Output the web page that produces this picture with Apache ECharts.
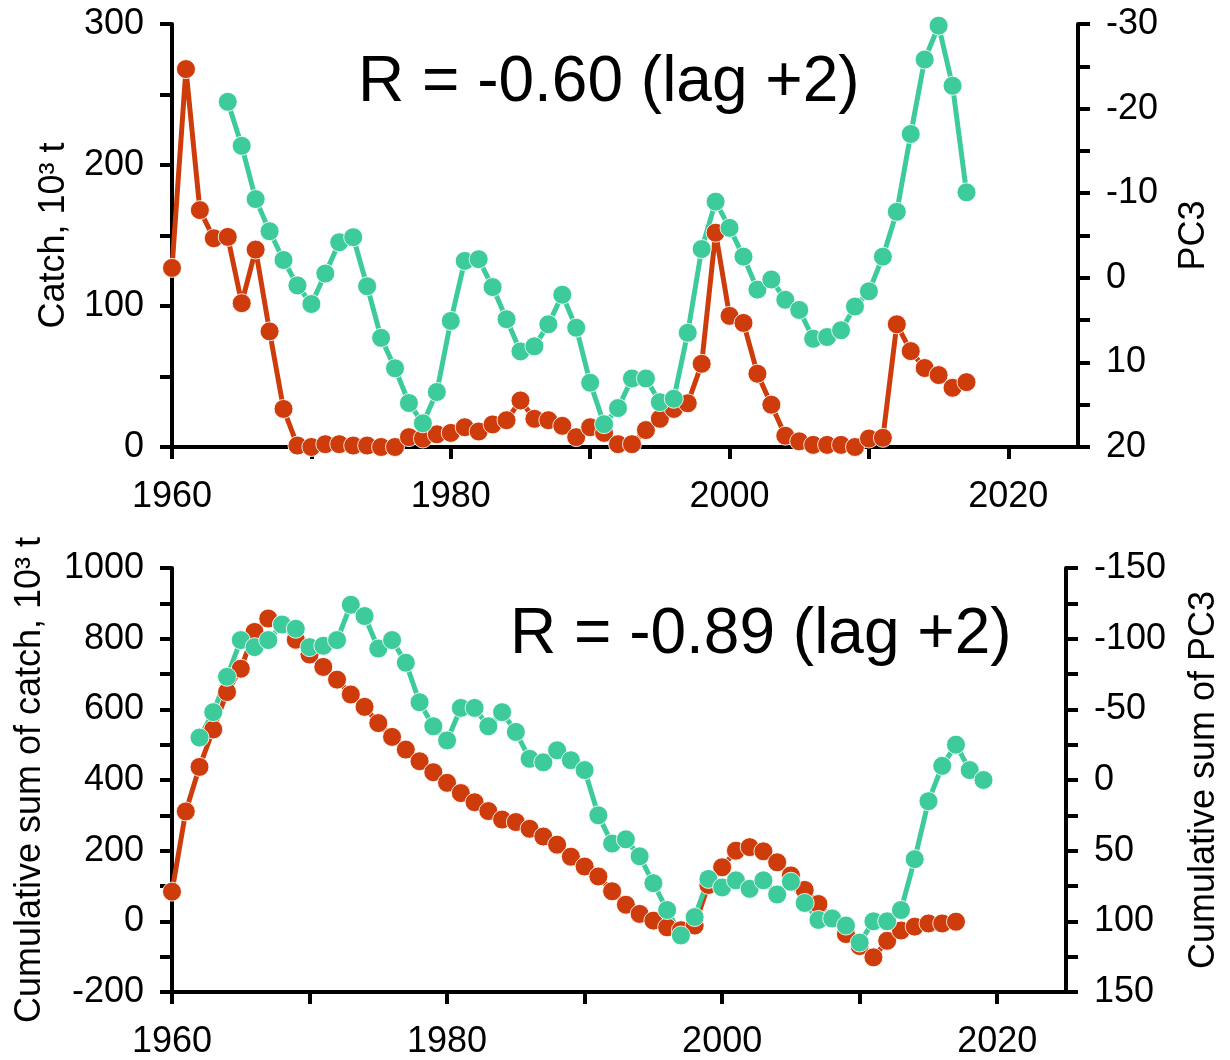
<!DOCTYPE html>
<html>
<head>
<meta charset="utf-8">
<script src="https://cdn.jsdelivr.net/npm/echarts@6/dist/echarts.min.js"></script>
<style>
html,body{margin:0;padding:0;background:#fff;}
#chart{width:1230px;height:1060px;}
</style>
</head>
<body>
<div id="chart"></div>
<script>
// ---- data ----
var catchYears = [1960,1961,1962,1963,1964,1965,1966,1967,1968,1969,1970,1971,1972,1973,1974,1975,1976,1977,1978,1979,1980,1981,1982,1983,1984,1985,1986,1987,1988,1989,1990,1991,1992,1993,1994,1995,1996,1997,1998,1999,2000,2001,2002,2003,2004,2005,2006,2007,2008,2009,2010,2011,2012,2013,2014,2015,2016,2017];
var catchValues = [127,268,168,148,149,102,140,82,27,1,0,2,2,1,1,0,0,7,6,9,10,14,11,16,19,33,20,19,15,7,14,10,2,2,12,20,27,31,59,152,93,88,52,30,8,4,1.5,1.5,1.5,0,6,6.5,87,68,56,51,42,46];
var pc3Years = [1964,1965,1966,1967,1968,1969,1970,1971,1972,1973,1974,1975,1976,1977,1978,1979,1980,1981,1982,1983,1984,1985,1986,1987,1988,1989,1990,1991,1992,1993,1994,1995,1996,1997,1998,1999,2000,2001,2002,2003,2004,2005,2006,2007,2008,2009,2010,2011,2012,2013,2014,2015,2016,2017];
var pc3Values = [-20.8,-15.6,-9.3,-5.5,-2.1,0.9,3.1,-0.5,-4.2,-4.8,1.0,7.1,10.7,14.8,17.2,13.5,5.1,-2.0,-2.2,1.1,4.9,8.7,8.1,5.5,2.0,5.9,12.4,17.3,15.4,11.9,11.9,14.7,14.3,6.5,-3.4,-9.0,-5.9,-2.5,1.4,0.2,2.6,3.8,7.2,7.0,6.2,3.4,1.6,-2.5,-7.8,-17.0,-25.8,-29.8,-22.7,-10.1];
var cumCatchYears = catchYears;
var cumCatchValues = [84,311,437,543,649,715,819,857,840,797,755,720,684,642,607,561,522,486,453,422,392,363,337,312,288,281,262,240,217,183,155,127,85,47,21,2,-17,-25,-12,103,153,200,210,198,167,130,89,49,9,-36,-70,-102,-55,-26,-15,-6,-6,-1];
var cumPc3Years = [1962,1963,1964,1965,1966,1967,1968,1969,1970,1971,1972,1973,1974,1975,1976,1977,1978,1979,1980,1981,1982,1983,1984,1985,1986,1987,1988,1989,1990,1991,1992,1993,1994,1995,1996,1997,1998,1999,2000,2001,2002,2003,2004,2005,2006,2007,2008,2009,2010,2011,2012,2013,2014,2015,2016,2017,2018,2019];
var cumPc3Values = [-30,-48,-73,-99,-94,-99,-110,-107,-94,-95,-99,-124,-116,-93,-99,-83,-55,-38,-28,-51,-51,-38,-48,-34,-15,-12.5,-21,-14,-7,25,45,42,54,73,92,110,97,70,76,71,77,71,81,72,87,99,98,103,115,100,100,92,56,15,-10,-25,-7,0];

var xTicks = [1960,1970,1980,1990,2000,2010,2020];
var xLabels = [1960,1980,2000,2020];
var catchTicks = [0,50,100,150,200,250,300];
var catchLabels = [0,100,200,300];
var pc3Ticks = [-30,-25,-20,-15,-10,-5,0,5,10,15,20];
var pc3Labels = [-30,-20,-10,0,10,20];
var cumCatchTicks = [-200,-100,0,100,200,300,400,500,600,700,800,900,1000];
var cumCatchLabels = [-200,0,200,400,600,800,1000];
var cumPc3Ticks = [-150,-125,-100,-75,-50,-25,0,25,50,75,100,125,150];
var cumPc3Labels = [-150,-100,-50,0,50,100,150];

var annotTop = 'R = -0.60 (lag +2)';
var annotBottom = 'R = -0.89 (lag +2)';

// ---- styles ----
var RED = '#cf3c0c';
var GREEN = '#3dcb9b';
var FONT = '"Liberation Sans", Arial, sans-serif';
var LBL = 36;
var NAME = 36;

function pairs(xs, ys){ return xs.map(function(x,i){ return [x, ys[i]]; }); }
function fmt(v){ return String(v); }

function xAxisCfg(gi){
  return {
    type:'value', gridIndex:gi, min:1960, max:2025, interval:10,
    axisLine:{show:true, onZero:false, lineStyle:{color:'#000', width:4}},
    axisTick:{show:true, length:12, lineStyle:{color:'#000', width:4}, customValues:xTicks},
    axisLabel:{show:true, customValues:xLabels, formatter:fmt, fontSize:LBL, fontFamily:FONT, color:'#000', margin:32},
    splitLine:{show:false}
  };
}
function yAxisCfg(gi, pos, min, max, interval, ticks, labels, name, gap, inverse){
  return {
    type:'value', gridIndex:gi, position:pos, min:min, max:max, interval:interval, inverse:!!inverse,
    name:name, nameLocation:'middle', nameGap:gap,
    nameTextStyle:{fontSize:NAME, fontFamily:FONT, color:'#000'},
    axisLine:{show:true, onZero:false, lineStyle:{color:'#000', width:4}},
    axisTick:{show:true, length:12, lineStyle:{color:'#000', width:4}, customValues:ticks},
    axisLabel:{show:true, customValues:labels, formatter:fmt, fontSize:LBL, fontFamily:FONT, color:'#000', margin:28},
    splitLine:{show:false}
  };
}
function lineSeries(xi, yi, data, color){
  return {
    type:'line', xAxisIndex:xi, yAxisIndex:yi, data:data,
    symbol:'circle', symbolSize:19, showAllSymbol:true,
    lineStyle:{color:color, width:5},
    itemStyle:{color:color, borderColor:'rgba(255,255,255,0.85)', borderWidth:1},
    emphasis:{disabled:true}, animation:false
  };
}

var chart = echarts.init(document.getElementById('chart'), null, {renderer:'canvas'});
chart.setOption({
  backgroundColor:'#ffffff',
  animation:false,
  grid:[
    {left:172, right:152, top:24, height:423},
    {left:172, right:152, top:568, height:424}
  ],
  xAxis:[xAxisCfg(0), xAxisCfg(1)],
  yAxis:[
    yAxisCfg(0,'left',0,300,50,catchTicks,catchLabels,'Catch, 10\u00b3 t',100,false),
    yAxisCfg(0,'right',-30,20,5,pc3Ticks,pc3Labels,'PC3',98,true),
    yAxisCfg(1,'left',-200,1000,100,cumCatchTicks,cumCatchLabels,'Cumulative sum of catch, 10\u00b3 t',124,false),
    yAxisCfg(1,'right',-150,150,25,cumPc3Ticks,cumPc3Labels,'Cumulative sum of PC3',120,true)
  ],
  series:[
    lineSeries(0,0,pairs(catchYears,catchValues),RED),
    lineSeries(0,1,pairs(pc3Years,pc3Values),GREEN),
    lineSeries(1,2,pairs(cumCatchYears,cumCatchValues),RED),
    lineSeries(1,3,pairs(cumPc3Years,cumPc3Values),GREEN)
  ],
  graphic:[
    {type:'text', x:358, y:83, style:{text:annotTop, fontSize:64, fontFamily:FONT, fill:'#000', verticalAlign:'middle', textVerticalAlign:'middle'}},
    {type:'text', x:510, y:635, style:{text:annotBottom, fontSize:64, fontFamily:FONT, fill:'#000', verticalAlign:'middle', textVerticalAlign:'middle'}}
  ]
});
</script>
</body>
</html>
